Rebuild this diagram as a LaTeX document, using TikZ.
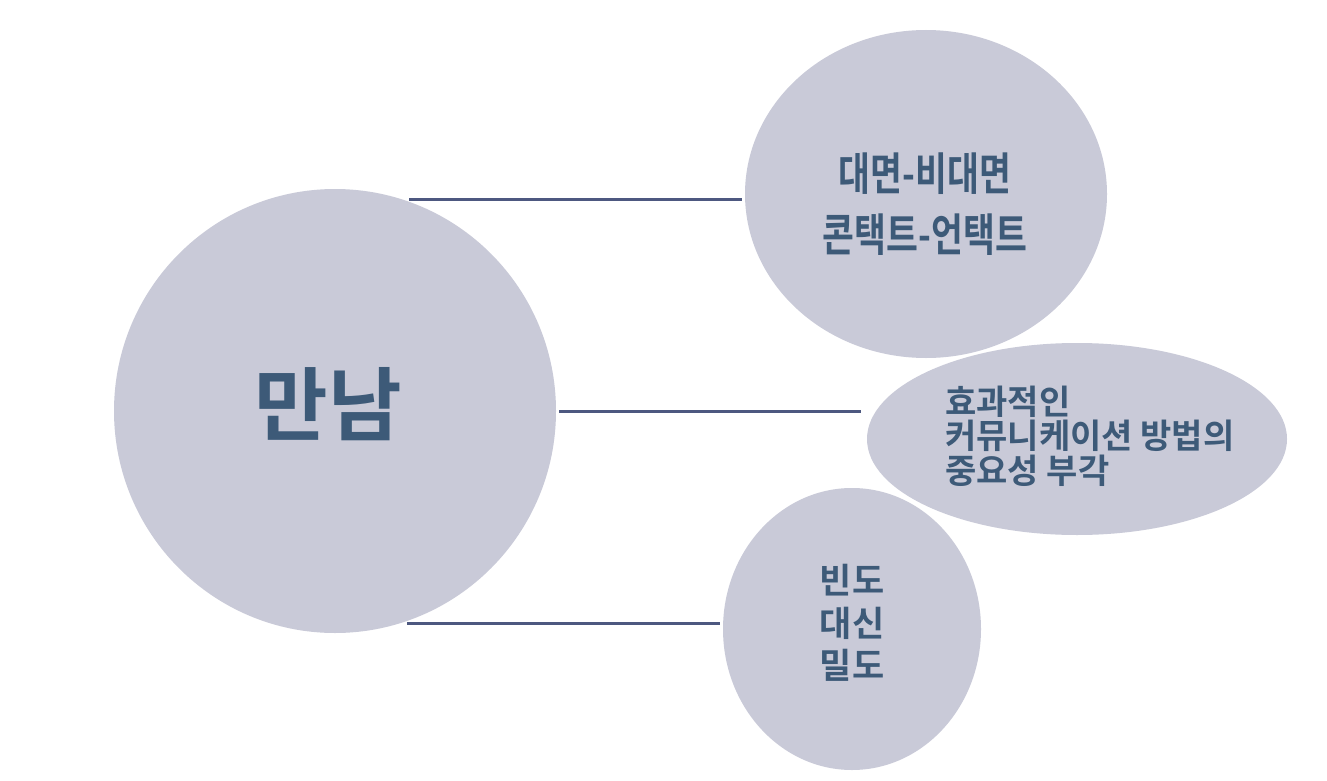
\documentclass[tikz,border=0pt]{standalone}
\usepackage{fontspec}
\newfontfamily\kr{Noto Sans CJK KR Bold}
\usetikzlibrary{shapes.geometric}
\definecolor{bubble}{HTML}{C9CAD8}
\definecolor{txt}{HTML}{3D5A78}
\definecolor{ln}{HTML}{4D5880}
\tikzset{
  bub/.style={ellipse, fill=bubble, draw=none, inner sep=0pt},
  lbl/.style={text=txt, inner sep=0pt, font=\kr},
  conn/.style={draw=ln, line width=3pt}
}
\begin{document}
\begin{tikzpicture}[x=1pt,y=-1pt]
\useasboundingbox (0,0) rectangle (1327,781);
\fill[white] (0,0) rectangle (1327,781);
% bubbles
\node[bub, minimum width=442pt, minimum height=444pt] (big) at (335,411) {};
\node[bub, minimum width=362pt, minimum height=328pt] (top) at (926,194) {};
\node[bub, minimum width=420pt, minimum height=192pt] (mid) at (1077,439) {};
\node[bub, minimum width=258pt, minimum height=282pt] (bot) at (852,629) {};
% texts
\node[lbl, font=\kr\fontsize{80}{90}\selectfont] (tbig) at (328,404) {만남};
\node[lbl, align=center, xscale=0.77, transform shape, font=\kr\fontsize{45}{61}\selectfont] (ttop) at (925,204) {대면-비대면\\콘택트-언택트};
\node[lbl, align=left, anchor=west, font=\kr\fontsize{34}{34.5}\selectfont] (tmid) at (945,436) {효과적인\\커뮤니케이션 방법의\\중요성 부각};
\node[lbl, align=center, font=\kr\fontsize{35}{42.5}\selectfont] (tbot) at (852,623) {빈도\\대신\\밀도};
% connectors
\coordinate (a1) at (409,199); \coordinate (a2) at (742,199);
\coordinate (b1) at (559,411); \coordinate (b2) at (861,411);
\coordinate (c1) at (407,623); \coordinate (c2) at (720,623);
\draw[conn] (a1) -- (a2);
\draw[conn] (b1) -- (b2);
\draw[conn] (c1) -- (c2);
\end{tikzpicture}
\end{document}
